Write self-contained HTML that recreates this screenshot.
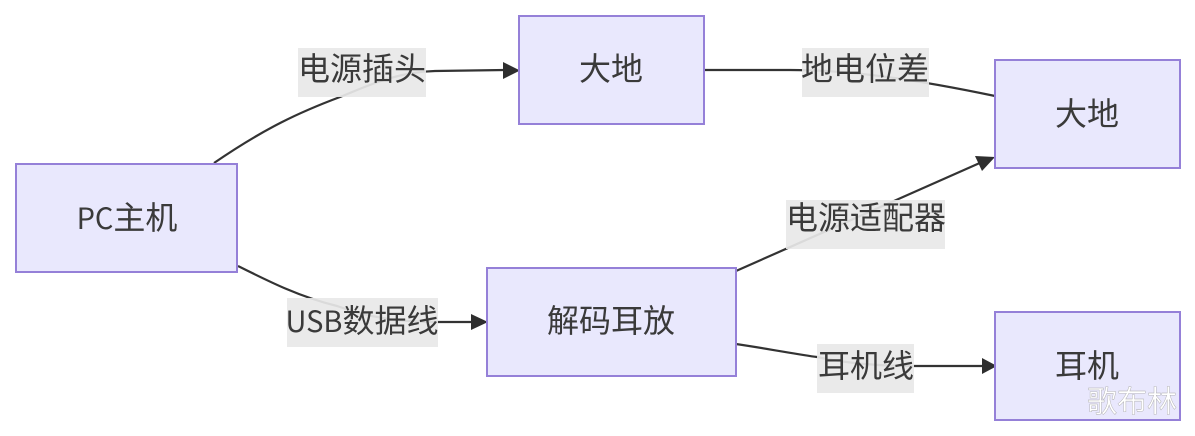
<!DOCTYPE html>
<html lang="zh">
<head>
<meta charset="utf-8">
<style>
html,body{margin:0;padding:0;background:#fff;width:1195px;height:436px;overflow:hidden}
svg{display:block}
text{font-family:"Noto Sans CJK SC","Liberation Sans",sans-serif;font-size:32px;fill:#3a3a3a;text-anchor:middle}
.n{fill:#e9e8fd;stroke:#9580d8;stroke-width:2}
.e{fill:none;stroke:#333;stroke-width:2.2}
.l{fill:#e8e8e8;fill-opacity:.92}
.a{fill:#2e2e2e}
.w{font-size:30px;fill:#fff;stroke:#a8a8a8;stroke-width:.4px;text-anchor:start}
.lat{font-size:29px}
</style>
</head>
<body>
<svg width="1195" height="436" viewBox="0 0 1195 436" xmlns="http://www.w3.org/2000/svg">
<rect width="1195" height="436" fill="#fff"/>
<path class="e" d="M214,163 C265,128 300,112 340,97 C365,87 395,72 435,71 L505,70"/>
<path class="a" d="M520,70.500 L503,62 L503,79 Z"/>
<path class="e" d="M704,70 L790,70 C840,70 900,76 995,96"/>
<path class="e" d="M736,271 L982,162"/>
<path class="a" d="M995,157 L975,156 L982,171 Z"/>
<path class="e" d="M238,266 C270,282 300,297 337,306 C370,318 400,322 438,322 L473,322"/>
<path class="a" d="M488,322 L471,314 L471,330 Z"/>
<path class="e" d="M736,344 C770,349 800,355 817,357 C840,362 870,366 915,366 L983,366"/>
<path class="a" d="M997,366 L982,358 L982,374 Z"/>
<rect class="n" x="16" y="164" width="221" height="108"/>
<rect class="n" x="519" y="16" width="185" height="108"/>
<rect class="n" x="995" y="60" width="185" height="108"/>
<rect class="n" x="487" y="268" width="249" height="108"/>
<rect class="n" x="995" y="312" width="185" height="108"/>
<rect class="l" x="298" y="48" width="128" height="49"/>
<rect class="l" x="802" y="48" width="127" height="49"/>
<rect class="l" x="786" y="200" width="159" height="49"/>
<rect class="l" x="287" y="298" width="151" height="49"/>
<rect class="l" x="817" y="344" width="97" height="49"/>
<text x="362" y="80">电源插头</text>
<text x="865" y="80">地电位差</text>
<text x="866" y="229">电源适配器</text>
<text x="362" y="332"><tspan class="lat">USB</tspan>数据线</text>
<text x="866" y="377">耳机线</text>
<text x="127" y="229"><tspan class="lat">PC</tspan>主机</text>
<text x="611" y="80">大地</text>
<text x="1087" y="125">大地</text>
<text x="611" y="332">解码耳放</text>
<text x="1087" y="377">耳机</text>
<text class="w" x="1087" y="412">歌布林</text>
</svg>
</body>
</html>
